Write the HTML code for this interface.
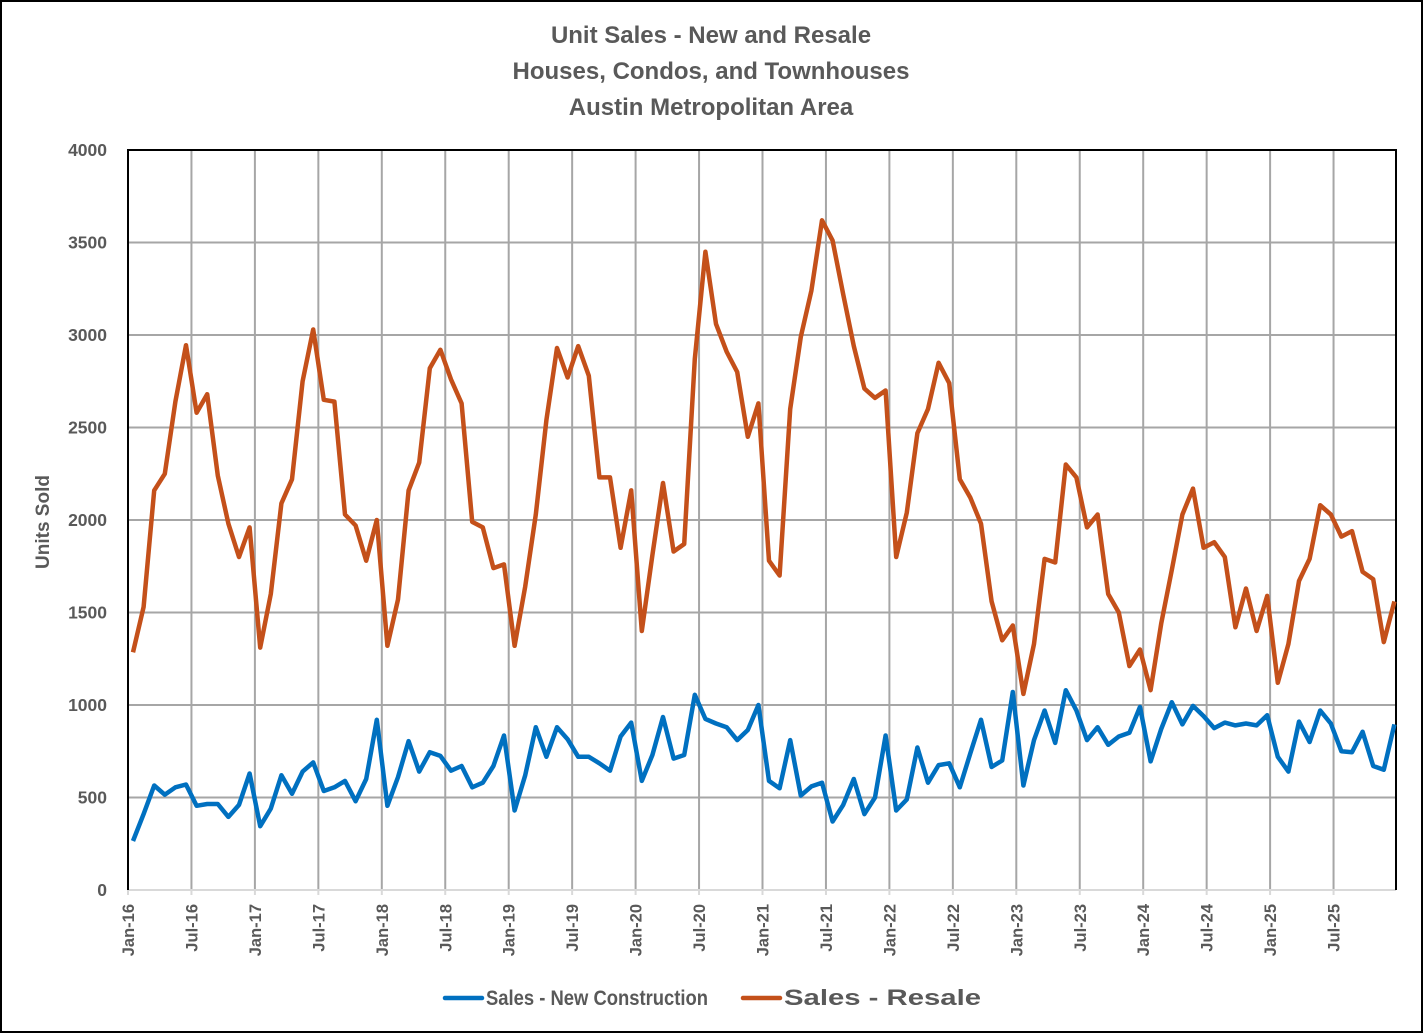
<!DOCTYPE html>
<html><head><meta charset="utf-8"><style>
html,body{margin:0;padding:0;background:#fff}
svg{display:block}
text{font-family:"Liberation Sans",sans-serif;font-weight:bold;fill:#595959}
</style></head><body>
<svg id="s" width="1423" height="1033" viewBox="0 0 1423 1033" xmlns="http://www.w3.org/2000/svg">
<rect x="1" y="1" width="1421" height="1031" fill="#fff" stroke="#000" stroke-width="2"/>
<text x="711" y="43" font-size="24" text-anchor="middle">Unit Sales - New and Resale</text>
<text x="711" y="79" font-size="24" text-anchor="middle">Houses, Condos, and Townhouses</text>
<text x="711" y="115" font-size="24" text-anchor="middle">Austin Metropolitan Area</text>
<g id="grid"></g>
<g id="lbl"></g>
<text transform="translate(49,522) rotate(-90)" font-size="19" text-anchor="middle">Units Sold</text>
<polyline id="res" fill="none" stroke="#C4501A" stroke-width="4.5" stroke-linejoin="round"/>
<polyline id="new" fill="none" stroke="#0070C0" stroke-width="4.5" stroke-linejoin="round"/>
<line x1="445" y1="998" x2="482" y2="998" stroke="#0070C0" stroke-width="4.5" stroke-linecap="round"/>
<text x="486" y="1005" font-size="21" textLength="222" lengthAdjust="spacingAndGlyphs">Sales - New Construction</text>
<line x1="743" y1="998" x2="780" y2="998" stroke="#C4501A" stroke-width="4.5" stroke-linecap="round"/>
<text x="784" y="1005" font-size="22" textLength="197" lengthAdjust="spacingAndGlyphs">Sales - Resale</text>
</svg>
<script>
var NS="http://www.w3.org/2000/svg";
function el(t,a,p,txt){var e=document.createElementNS(NS,t);for(var k in a)e.setAttribute(k,a[k]);if(txt)e.textContent=txt;document.getElementById(p).appendChild(e);return e;}
var L=128,R=1396,T=150,B=890;
function Y(v){return B-v*(B-T)/4000;}
for(var v=500;v<=3500;v+=500)el("line",{x1:L,x2:R,y1:Y(v),y2:Y(v),stroke:"#A6A6A6","stroke-width":2},"grid");
var mon=["Jan","Jul"];
for(var i=0;i<20;i++){var x=L+i*63.45;if(i>0)el("line",{x1:x,x2:x,y1:T,y2:B,stroke:"#A6A6A6","stroke-width":2},"grid");
el("line",{x1:x,x2:x,y1:B,y2:B+5,stroke:"#D9D9D9","stroke-width":2},"grid");
el("text",{transform:"translate("+(x+6)+",904) rotate(-90)","font-size":"16.5","text-anchor":"end"},"lbl",mon[i%2]+"-"+(16+Math.floor(i/2)));}
el("line",{x1:L,x2:R,y1:B,y2:B,stroke:"#D9D9D9","stroke-width":2},"grid");
el("polyline",{points:L+","+B+" "+L+","+T+" "+R+","+T+" "+R+","+B,fill:"none",stroke:"#000","stroke-width":2},"grid");
for(var v=0;v<=4000;v+=500)el("text",{x:107,y:Y(v)+6,"font-size":"17.5","text-anchor":"end"},"lbl",""+v);
var res=[1285,1530,2160,2250,2640,2945,2580,2680,2240,1980,1800,1960,
1310,1600,2090,2220,2750,3030,2650,2640,2030,1970,1780,2000,
1320,1570,2160,2310,2820,2920,2760,2630,1990,1960,1740,1760,
1320,1640,2030,2540,2930,2770,2940,2780,2230,2230,1850,2160,
1400,1810,2200,1830,1870,2870,3450,3060,2910,2800,2450,2630,
1780,1700,2600,2990,3240,3620,3510,3220,2940,2710,2660,2700,
1800,2040,2470,2600,2850,2740,2220,2120,1980,1560,1350,1430,
1060,1330,1790,1770,2300,2230,1960,2030,1600,1500,1210,1300,
1080,1440,1730,2030,2170,1850,1880,1800,1420,1630,1400,1590,
1120,1330,1670,1790,2080,2030,1910,1940,1720,1680,1340,1560];
var nw=[265,410,565,515,555,570,455,465,465,395,460,630,
345,440,620,520,640,690,535,555,590,480,600,920,
455,610,805,640,745,725,645,670,555,580,670,835,
430,620,880,720,880,815,720,720,685,645,830,905,
590,730,935,710,730,1055,925,900,880,810,865,1000,
590,550,810,510,560,580,370,460,600,410,500,835,
430,490,770,580,675,685,555,740,920,665,700,1070,
565,810,970,795,1080,970,810,880,785,830,850,990,
695,870,1015,895,995,940,875,905,890,900,890,945,
720,640,910,800,970,900,750,745,855,670,650,895];
function pts(a){var s=[];for(var i=0;i<a.length;i++)s.push((133+i*10.6).toFixed(1)+","+Y(a[i]).toFixed(1));return s.join(" ");}
document.getElementById("res").setAttribute("points",pts(res));
document.getElementById("new").setAttribute("points",pts(nw));
</script>
</body></html>
